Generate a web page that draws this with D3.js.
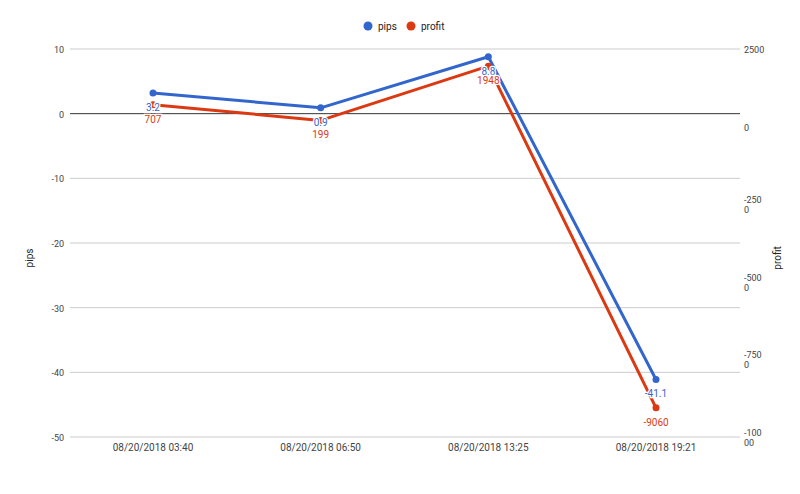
<!DOCTYPE html>
<html><head><meta charset="utf-8">
<script src="https://cdn.jsdelivr.net/npm/d3@7"></script>
<style>body{margin:0;background:#fff;font-family:Roboto,Arial,sans-serif}</style>
</head><body><svg id="chart" width="800" height="494"></svg>
<script>
// data
const categories = ["08/20/2018 03:40", "08/20/2018 06:50", "08/20/2018 13:25", "08/20/2018 19:21"];
const pips = [3.2, 0.9, 8.8, -41.1];
const profit = [707, 199, 1948, -9060];
const leftTicks = [10, 0, -10, -20, -30, -40, -50];
const rightTicks = [2500, 0, -2500, -5000, -7500, -10000];

const svg = d3.select("#chart");
const plotLeft = 70, plotRight = 740, plotTop = 49, plotBottom = 437;
const blue = "#3366cc", red = "#dc3912";

const x = d3.scalePoint().domain(categories).range([153, 656]);
const yL = d3.scaleLinear().domain([-50, 10]).range([plotBottom, plotTop]);
const yR = d3.scaleLinear().domain([-10000, 2500]).range([plotBottom, plotTop]);

// gridlines
svg.append("g").selectAll("line").data(leftTicks).join("line")
	.attr("x1", plotLeft).attr("x2", plotRight)
	.attr("y1", d => yL(d)).attr("y2", d => yL(d))
	.attr("stroke", d => d === 0 ? "#333" : "#ccc").attr("stroke-width", 1);

// left labels
svg.append("g").selectAll("text").data(leftTicks).join("text")
	.attr("x", 64).attr("y", d => yL(d) + 4).attr("text-anchor", "end")
	.attr("font-size", 9).attr("fill", "#444").text(d => d);

// right labels, wrapped like the original
const rl = svg.append("g").selectAll("text").data(rightTicks).join("text")
	.attr("x", 744).attr("y", d => yR(d) + 4)
	.attr("font-size", 9).attr("fill", "#444");
rl.each(function (d) {
	const s = String(d), t = d3.select(this);
	if (s.length <= 4) { t.text(s); return; }
	t.attr("y", yR(d) - 1);
	t.append("tspan").attr("x", 744).text(s.slice(0, 4));
	t.append("tspan").attr("x", 744).attr("dy", 10).text(s.slice(4));
});

// axis titles
svg.append("text").attr("transform", "translate(33,258) rotate(-90)")
	.attr("text-anchor", "middle").attr("font-size", 10).attr("fill", "#222").text("pips");
svg.append("text").attr("transform", "translate(781,258) rotate(-90)")
	.attr("text-anchor", "middle").attr("font-size", 10).attr("fill", "#222").text("profit");

// category labels
svg.append("g").selectAll("text").data(categories).join("text")
	.attr("x", d => x(d)).attr("y", 451).attr("text-anchor", "middle")
	.attr("font-size", 10).attr("fill", "#444").text(d => d);

// series
const series = [
	{ name: "pips", vals: pips, y: yL, color: blue },
	{ name: "profit", vals: profit, y: yR, color: red }
];
series.forEach(s => {
	const pts = s.vals.map((v, i) => [x(categories[i]), s.y(v)]);
	svg.append("path").attr("d", d3.line()(pts)).attr("fill", "none")
		.attr("stroke", s.color).attr("stroke-width", 3).attr("stroke-linejoin", "round");
	svg.append("g").selectAll("circle").data(pts).join("circle")
		.attr("cx", d => d[0]).attr("cy", d => d[1]).attr("r", 3.5).attr("fill", s.color);
});
series.forEach(s => {
	svg.append("g").selectAll("text").data(s.vals).join("text")
		.attr("x", (d, i) => x(categories[i])).attr("y", d => s.y(d) + 18)
		.attr("text-anchor", "middle").attr("font-size", 10).attr("fill", s.color)
		.attr("stroke", "#fff").attr("stroke-width", 2.5).attr("paint-order", "stroke")
		.text(d => d);
});

// legend
const lg = svg.append("g").selectAll("g").data(series).join("g")
	.attr("transform", (d, i) => `translate(${368 + i * 43},26)`);
lg.append("circle").attr("r", 4.5).attr("fill", d => d.color);
lg.append("text").attr("x", 10).attr("y", 4).attr("font-size", 10).attr("fill", "#222").text(d => d.name);
</script></body></html>
